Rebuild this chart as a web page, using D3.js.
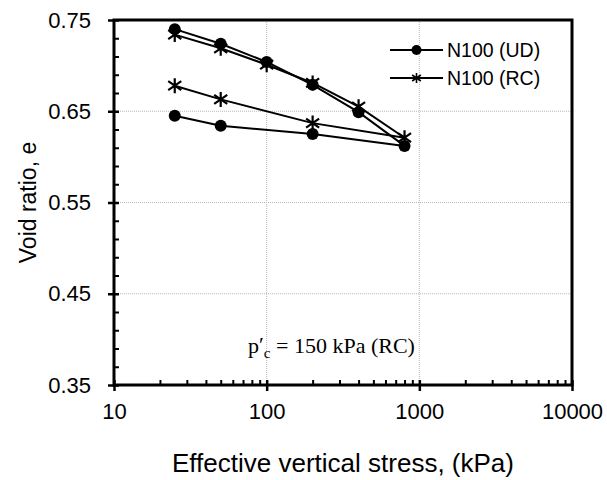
<!DOCTYPE html>
<html>
<head>
<meta charset="utf-8">
<script src="https://cdn.jsdelivr.net/npm/d3@7"></script>
<style>
  body { margin: 0; background: #fff; }
  text { font-family: "Liberation Sans", Arial, sans-serif; fill: #000; }
</style>
</head>
<body>
<div id="chart"></div>
<script>
// stress steps (kPa), loading then unloading
var stressUD = [25, 50, 100, 200, 400, 800, 200, 50, 25];
var voidUD = [0.740, 0.724, 0.704, 0.679, 0.649, 0.612, 0.625, 0.634, 0.645];

var stressRC = [25, 50, 100, 200, 400, 800, 200, 50, 25];
var voidRC = [0.734, 0.719, 0.701, 0.681, 0.655, 0.621, 0.637, 0.663, 0.678];

var xMajor = [10, 100, 1000, 10000];
var xMinor = [20, 30, 40, 50, 60, 70, 80, 90, 200, 300, 400, 500, 600, 700, 800, 900,
  2000, 3000, 4000, 5000, 6000, 7000, 8000, 9000];
var yMajor = [0.35, 0.45, 0.55, 0.65, 0.75];
var yMinor = [0.37, 0.39, 0.41, 0.43, 0.47, 0.49, 0.51, 0.53, 0.57, 0.59, 0.61, 0.63, 0.67, 0.69, 0.71, 0.73];

var seriesNames = ["N100 (UD)", "N100 (RC)"];

let svgWidth = 607;
let svgHeight = 480;
let margin = {top: 20, right: 35, bottom: 95, left: 114};
let width = svgWidth - margin.left - margin.right;
let height = svgHeight - margin.top - margin.bottom;

let svg = d3.select("#chart").append("svg")
  .attr("width", svgWidth)
  .attr("height", svgHeight);

let g = svg.append("g")
  .attr("transform", `translate(${margin.left}, ${margin.top})`);

let x = d3.scaleLog().domain([10, 10000]).range([0, width]);
let y = d3.scaleLinear().domain([0.35, 0.75]).range([height, 0]);

// dotted grid
g.selectAll(".vgrid").data([100, 1000]).enter().append("line")
  .attr("x1", d => x(d)).attr("x2", d => x(d))
  .attr("y1", 0).attr("y2", height)
  .attr("stroke", "#b8b8b8").attr("stroke-width", 1).attr("stroke-dasharray", "1,1");
g.selectAll(".hgrid").data([0.45, 0.55, 0.65]).enter().append("line")
  .attr("x1", 0).attr("x2", width)
  .attr("y1", d => y(d)).attr("y2", d => y(d))
  .attr("stroke", "#b8b8b8").attr("stroke-width", 1).attr("stroke-dasharray", "1,1");

// minor ticks, pointing into the plot
g.append("g")
  .attr("transform", `translate(0, ${height})`)
  .call(d3.axisTop(x).tickValues(xMinor).tickSize(5).tickFormat(""))
  .call(a => a.select(".domain").remove())
  .selectAll("line").attr("stroke-width", 2);
g.append("g")
  .call(d3.axisRight(y).tickValues(yMinor).tickSize(5).tickFormat(""))
  .call(a => a.select(".domain").remove())
  .selectAll("line").attr("stroke-width", 2);

// major ticks + labels
let xAxis = g.append("g")
  .attr("transform", `translate(0, ${height})`)
  .call(d3.axisBottom(x).tickValues(xMajor).tickSize(6).tickPadding(12).tickFormat(d3.format("d")));
xAxis.select(".domain").remove();
xAxis.selectAll("line").attr("y1", -5).attr("stroke-width", 2.5);
xAxis.selectAll("text").style("font-size", "22px");

let yAxis = g.append("g")
  .call(d3.axisLeft(y).tickValues(yMajor).tickSize(6).tickPadding(17).tickFormat(d3.format(".2f")));
yAxis.select(".domain").remove();
yAxis.selectAll("line").attr("x1", 5).attr("stroke-width", 2.5);
yAxis.selectAll("text").style("font-size", "22px");

// frame
g.append("rect")
  .attr("x", 0).attr("y", 0)
  .attr("width", width).attr("height", height)
  .attr("fill", "none").attr("stroke", "#000").attr("stroke-width", 3);

let line = d3.line().x(d => x(d[0])).y(d => y(d[1]));
let udPts = stressUD.map((s, i) => [s, voidUD[i]]);
let rcPts = stressRC.map((s, i) => [s, voidRC[i]]);

g.append("path").attr("d", line(rcPts))
  .attr("fill", "none").attr("stroke", "#000").attr("stroke-width", 2);
g.append("path").attr("d", line(udPts))
  .attr("fill", "none").attr("stroke", "#000").attr("stroke-width", 2);

function star(sel, r, w) {
  sel.append("path")
    .attr("d", `M0,${-r}L0,${r}M${-r*0.87},${-r*0.6}L${r*0.87},${r*0.6}M${-r*0.87},${r*0.6}L${r*0.87},${-r*0.6}`)
    .attr("stroke", "#000").attr("stroke-width", w).attr("fill", "none");
}

g.selectAll(".rc").data(rcPts).enter().append("g")
  .attr("transform", d => `translate(${x(d[0])},${y(d[1])})`)
  .call(s => star(s, 7.5, 2.2));

g.selectAll(".ud").data(udPts).enter().append("circle")
  .attr("cx", d => x(d[0])).attr("cy", d => y(d[1]))
  .attr("r", 6).attr("fill", "#000");

// legend
let leg = g.append("g").attr("transform", "translate(276, 30)");
seriesNames.forEach((name, i) => {
  let row = leg.append("g").attr("transform", `translate(0, ${i * 28})`);
  row.append("line").attr("x1", 0).attr("x2", 53).attr("y1", 0).attr("y2", 0)
    .attr("stroke", "#000").attr("stroke-width", 2);
  if (i === 0) {
    row.append("circle").attr("cx", 26.5).attr("cy", 0).attr("r", 5).attr("fill", "#000");
  } else {
    row.append("g").attr("transform", "translate(26.5,0)").call(s => star(s, 5, 1.6));
  }
  row.append("text").attr("x", 57).attr("y", 0).attr("dy", "0.36em")
    .style("font-size", "19.5px").text(name);
});

// annotation
let ann = g.append("text")
  .attr("x", 134).attr("y", y(0.35) - 32)
  .style("font-family", "'Liberation Serif', 'DejaVu Serif', serif")
  .style("font-size", "22px");
ann.append("tspan").text("p");
ann.append("tspan").attr("dx", 0).attr("dy", -1).text("′");
ann.append("tspan").attr("dx", 0).attr("dy", 6).style("font-size", "15px").text("c");
ann.append("tspan").attr("dy", -5).text(" = 150 kPa (RC)");

// axis titles
svg.append("text")
  .attr("x", margin.left + width / 2).attr("y", 472)
  .attr("text-anchor", "middle").style("font-size", "26px")
  .text("Effective vertical stress, (kPa)");

svg.append("text")
  .attr("transform", "rotate(-90)")
  .attr("x", -(margin.top + height / 2)).attr("y", 36)
  .attr("text-anchor", "middle").style("font-size", "23px")
  .text("Void ratio, e");
</script>
</body>
</html>
